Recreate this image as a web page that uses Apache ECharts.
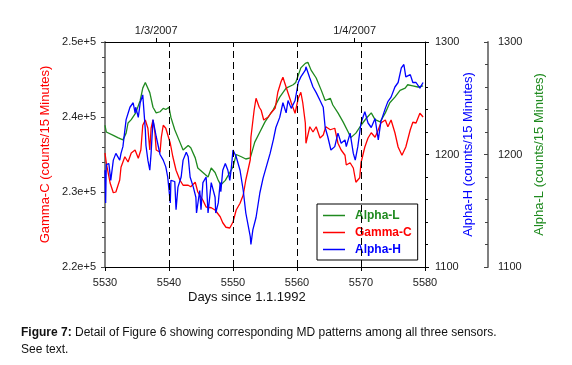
<!DOCTYPE html>
<html>
<head>
<meta charset="utf-8">
<script src="https://cdn.jsdelivr.net/npm/echarts@6/dist/echarts.min.js"></script>
<style>
html,body{margin:0;padding:0;background:#fff;}
#chart{width:572px;height:365px;}
</style>
</head>
<body>
<div id="chart"></div>
<script>
// ---- Data ----
const xTicks = [5530, 5540, 5550, 5560, 5570, 5580];
const dateTickDays = [5538, 5569];
const dateTickLabels = ['1/3/2007', '1/4/2007'];
const eventDays = [5540, 5550, 5560, 5570];

// Alpha-L (counts/15 Minutes) [day, value]
const alphaL = [
 [5530.0,1226],[5530.2,1220],[5531.3,1217],[5532.0,1215],[5532.8,1213],[5533.3,1219],[5533.6,1228],
 [5534.1,1231],[5534.8,1237],[5535.5,1248],[5535.9,1259],[5536.3,1264],[5536.4,1264],[5537.0,1255],
 [5537.5,1242],[5538.0,1237],[5538.6,1238],[5539.1,1241],[5539.5,1240],[5540.0,1242],[5540.3,1233],
 [5540.9,1222],[5541.7,1211],[5542.2,1204],[5543.0,1208],[5543.4,1206],[5544.1,1197],[5544.5,1188],
 [5545.3,1184],[5546.1,1180],[5546.6,1188],[5547.2,1184],[5547.7,1177],[5548.1,1173],[5548.8,1177],
 [5549.5,1184],[5550.0,1189],[5550.5,1200],[5551.3,1198],[5552.0,1196],[5552.7,1197],[5553.4,1211],
 [5554.2,1220],[5555.0,1229],[5556.3,1240],[5557.3,1251],[5558.3,1259],[5559.4,1262],[5559.8,1264],
 [5560.6,1277],[5561.3,1281],[5561.7,1282],[5562.2,1275],[5563.0,1268],[5563.8,1257],[5564.4,1248],
 [5565.2,1250],[5565.6,1244],[5566.4,1237],[5567.2,1229],[5568.0,1220],[5568.4,1215],[5569.2,1219],
 [5570.0,1226],[5570.8,1232],[5571.6,1237],[5572.2,1231],[5573.0,1229],[5573.8,1237],[5574.5,1246],
 [5575.3,1251],[5576.1,1257],[5576.9,1259],[5577.3,1262],[5578.1,1261],[5578.9,1260],[5579.7,1261]
];

// Gamma-C (counts/15 Minutes) [day, value]
const gammaC = [
 [5530.0,235200],[5530.2,233900],[5530.8,231200],[5531.3,229900],[5531.7,230000],[5532.3,231600],
 [5532.5,233300],[5533.1,234700],[5533.6,234000],[5534.1,235200],[5534.7,235600],[5535.2,234500],
 [5535.6,235600],[5535.9,238900],[5536.3,239600],[5536.7,238500],[5537.0,235600],[5537.2,238500],
 [5537.5,239600],[5537.8,237900],[5538.0,235600],[5538.6,235300],[5538.8,237300],[5539.1,238900],
 [5539.5,238500],[5540.2,236500],[5540.6,234700],[5541.1,232900],[5541.7,231600],[5542.2,230900],
 [5543.0,230900],[5543.4,230700],[5544.1,231300],[5544.5,230000],[5545.3,228900],[5545.8,228000],
 [5546.6,227900],[5547.2,227600],[5548.0,226700],[5548.4,225900],[5548.9,225300],[5549.5,225200],
 [5550.0,226000],[5550.5,227600],[5551.1,228500],[5551.6,229600],[5552.0,231600],[5552.7,234300],
 [5552.8,237300],[5553.3,240900],[5553.6,242500],[5554.1,241300],[5554.4,240900],[5554.8,239600],
 [5555.5,240000],[5555.9,240500],[5556.6,241200],[5557.0,243300],[5557.5,244700],[5557.8,245300],
 [5558.1,244500],[5558.6,243200],[5559.1,241900],[5559.7,240500],[5560.2,242500],[5560.6,243300],
 [5560.9,241900],[5561.3,239200],[5561.4,236500],[5562.0,238700],[5562.5,238000],[5563.0,238700],
 [5563.6,237200],[5564.1,237600],[5564.5,238700],[5565.2,238300],[5565.9,238500],[5566.4,236500],
 [5566.9,235600],[5567.5,234900],[5567.7,233600],[5568.3,233900],[5568.8,233200],[5569.2,231300],
 [5569.8,231900],[5570.0,233900],[5570.6,236000],[5571.1,237200],[5571.6,237900],[5572.2,237300],
 [5572.7,238300],[5573.1,239200],[5573.8,239600],[5574.2,238700],[5574.7,239600],[5575.3,237900],
 [5575.8,236000],[5576.4,234900],[5577.0,236000],[5577.7,238300],[5578.1,239300],[5578.6,239200],
 [5579.2,240500],[5579.7,240000]
];

// Alpha-H (counts/15 Minutes) [day, value]
const alphaH = [
 [5530.0,1186],[5530.1,1157],[5530.2,1191],[5530.6,1192],[5530.9,1177],[5531.3,1195],[5531.7,1201],
 [5532.3,1195],[5532.5,1201],[5532.8,1207],[5533.3,1231],[5533.9,1242],[5534.4,1246],[5534.7,1237],
 [5534.8,1242],[5535.2,1233],[5535.5,1246],[5535.9,1253],[5536.3,1222],[5536.4,1208],[5536.7,1195],
 [5537.0,1186],[5537.2,1201],[5537.5,1231],[5538.0,1216],[5538.6,1200],[5539.1,1195],[5539.5,1189],
 [5539.8,1180],[5540.2,1157],[5540.3,1177],[5540.9,1176],[5541.1,1151],[5541.4,1171],[5541.9,1180],
 [5542.2,1195],[5542.7,1202],[5543.0,1198],[5543.3,1180],[5543.8,1171],[5544.2,1162],[5544.3,1148],
 [5544.8,1168],[5545.0,1151],[5545.3,1175],[5545.8,1180],[5546.1,1148],[5546.6,1175],[5547.2,1162],
 [5547.3,1148],[5547.7,1157],[5548.0,1175],[5548.1,1167],[5548.4,1186],[5548.8,1192],[5549.2,1186],
 [5549.5,1177],[5549.7,1186],[5550.0,1204],[5550.5,1198],[5551.1,1186],[5551.6,1168],[5552.0,1148],
 [5552.7,1127],[5552.8,1120],[5553.1,1133],[5553.6,1144],[5554.2,1166],[5554.7,1179],[5555.2,1189],
 [5555.8,1201],[5556.3,1213],[5556.7,1224],[5557.3,1233],[5557.8,1246],[5558.3,1237],[5558.6,1248],
 [5559.1,1241],[5559.7,1248],[5560.2,1264],[5560.6,1269],[5561.3,1275],[5561.4,1278],[5562.0,1268],
 [5562.5,1260],[5563.0,1255],[5563.6,1248],[5564.1,1242],[5564.4,1224],[5564.8,1216],[5565.3,1204],
 [5565.9,1207],[5566.4,1219],[5566.9,1210],[5567.5,1213],[5567.7,1207],[5568.3,1219],[5568.8,1201],
 [5569.1,1195],[5569.5,1207],[5570.0,1228],[5570.6,1238],[5571.1,1228],[5571.6,1224],[5572.2,1232],
 [5572.7,1213],[5573.1,1229],[5573.8,1241],[5574.2,1247],[5574.7,1251],[5575.3,1260],[5575.8,1264],
 [5576.3,1277],[5576.7,1280],[5577.0,1269],[5577.7,1271],[5578.1,1264],[5578.6,1264],[5579.2,1259],
 [5579.7,1264]
];

const FONT = 'Liberation Sans, Arial, sans-serif';
const GREEN = '#1f8a1f', RED = '#ff0000', BLUE = '#0000ff';
const plain = function (v) { return String(v); };

const chart = echarts.init(document.getElementById('chart'), null, {renderer: 'canvas'});
chart.setOption({
  animation: false,
  backgroundColor: '#fff',
  textStyle: {fontFamily: FONT},
  grid: {left: 105, top: 42, width: 320, height: 225, containLabel: false},
  xAxis: [
    {
      type: 'value', position: 'bottom', min: 5530, max: 5580, interval: 10,
      axisLine: {lineStyle: {color: '#000', width: 1}},
      axisTick: {show: true, length: 4, lineStyle: {color: '#000'}},
      axisLabel: {color: '#222', fontSize: 11, margin: 10, fontFamily: FONT, formatter: plain},
      splitLine: {show: false}
    },
    {
      type: 'value', position: 'top', min: 5530, max: 5580,
      axisLine: {lineStyle: {color: '#000', width: 1}},
      axisTick: {show: true, length: 4, customValues: dateTickDays, lineStyle: {color: '#000'}},
      axisLabel: {
        color: '#222', fontSize: 11, margin: 6, fontFamily: FONT,
        customValues: dateTickDays,
        formatter: function (v) {
          const i = dateTickDays.indexOf(v);
          return i >= 0 ? dateTickLabels[i] : '';
        }
      },
      splitLine: {show: false}
    }
  ],
  yAxis: [
    {
      type: 'value', position: 'left', min: 220000, max: 250000, interval: 10000,
      name: 'Gamma-C (counts/15 Minutes)', nameLocation: 'middle', nameGap: 53, nameRotate: 90,
      nameMoveOverlap: false,
      nameTextStyle: {color: RED, fontSize: 13, fontFamily: FONT},
      axisLine: {show: true, lineStyle: {color: '#808080', width: 2}},
      axisTick: {show: true, length: 4, lineStyle: {color: '#444'}},
      minorTick: {show: true, splitNumber: 5, length: 3, lineStyle: {color: '#444'}},
      axisLabel: {color: '#222', fontSize: 11, margin: 9, fontFamily: FONT,
        formatter: function (v) { return (v / 100000).toFixed(1) + 'e+5'; }},
      splitLine: {show: false}
    },
    {
      type: 'value', position: 'right', offset: 0, min: 1100, max: 1300, interval: 100,
      name: 'Alpha-H (counts/15 Minutes)', nameLocation: 'middle', nameGap: 37, nameRotate: 90,
      nameMoveOverlap: false,
      nameTextStyle: {color: BLUE, fontSize: 13, fontFamily: FONT},
      axisLine: {show: true, lineStyle: {color: '#000', width: 1}},
      axisTick: {show: true, length: 4, lineStyle: {color: '#000'}},
      minorTick: {show: true, splitNumber: 5, length: 3, lineStyle: {color: '#000'}},
      axisLabel: {color: '#222', fontSize: 11, margin: 10, fontFamily: FONT, formatter: plain},
      splitLine: {show: false}
    },
    {
      type: 'value', position: 'right', offset: 63, min: 1100, max: 1300, interval: 100,
      name: 'Alpha-L (counts/15 Minutes)', nameLocation: 'middle', nameGap: 45, nameRotate: 90,
      nameMoveOverlap: false,
      nameTextStyle: {color: GREEN, fontSize: 13, fontFamily: FONT},
      axisLine: {show: true, lineStyle: {color: '#808080', width: 2}},
      axisTick: {show: true, inside: true, length: 4, lineStyle: {color: '#444'}},
      minorTick: {show: true, splitNumber: 5, length: 3, lineStyle: {color: '#444'}},
      axisLabel: {color: '#222', fontSize: 11, margin: 10, fontFamily: FONT, formatter: plain},
      splitLine: {show: false}
    }
  ],
  legend: {
    orient: 'vertical', left: 317, top: 204,
    borderColor: '#000', borderWidth: 1, borderRadius: 0,
    padding: [5, 6, 4, 6], itemWidth: 22, itemHeight: 1.5, itemGap: 4,
    icon: 'rect',
    textStyle: {fontSize: 12, fontWeight: 'bold', fontFamily: FONT, padding: [0, 0, 0, 5], lineHeight: 13},
    data: [
      {name: 'Alpha-L', textStyle: {color: GREEN}},
      {name: 'Gamma-C', textStyle: {color: RED}},
      {name: 'Alpha-H', textStyle: {color: BLUE}}
    ]
  },
  graphic: [
    {type: 'text', left: 188, top: 291, style: {text: 'Days since 1.1.1992', font: '13px ' + FONT, fill: '#111'}},
    {type: 'text', left: 21, top: 324, style: {
      text: '{b|Figure 7:} Detail of Figure 6 showing corresponding MD patterns among all three sensors.\nSee text.',
      font: '12px ' + FONT, fill: '#111', lineHeight: 17,
      rich: {b: {fontWeight: 'bold', font: 'bold 12px ' + FONT, fill: '#111'}}
    }}
  ],
  series: [
    {
      name: 'Alpha-L', type: 'line', xAxisIndex: 0, yAxisIndex: 2, data: alphaL,
      symbol: 'none', lineStyle: {color: GREEN, width: 1.3}, itemStyle: {color: GREEN}, z: 2,
      markLine: {
        silent: true, symbol: 'none', label: {show: false},
        lineStyle: {color: '#000', width: 1, type: [7, 4]},
        data: eventDays.map(function (d) { return {xAxis: d}; })
      }
    },
    {
      name: 'Gamma-C', type: 'line', xAxisIndex: 0, yAxisIndex: 0, data: gammaC,
      symbol: 'none', lineStyle: {color: RED, width: 1.3}, itemStyle: {color: RED}, z: 3
    },
    {
      name: 'Alpha-H', type: 'line', xAxisIndex: 0, yAxisIndex: 1, data: alphaH,
      symbol: 'none', lineStyle: {color: BLUE, width: 1.3}, itemStyle: {color: BLUE}, z: 4
    }
  ]
});
</script>
</body>
</html>
